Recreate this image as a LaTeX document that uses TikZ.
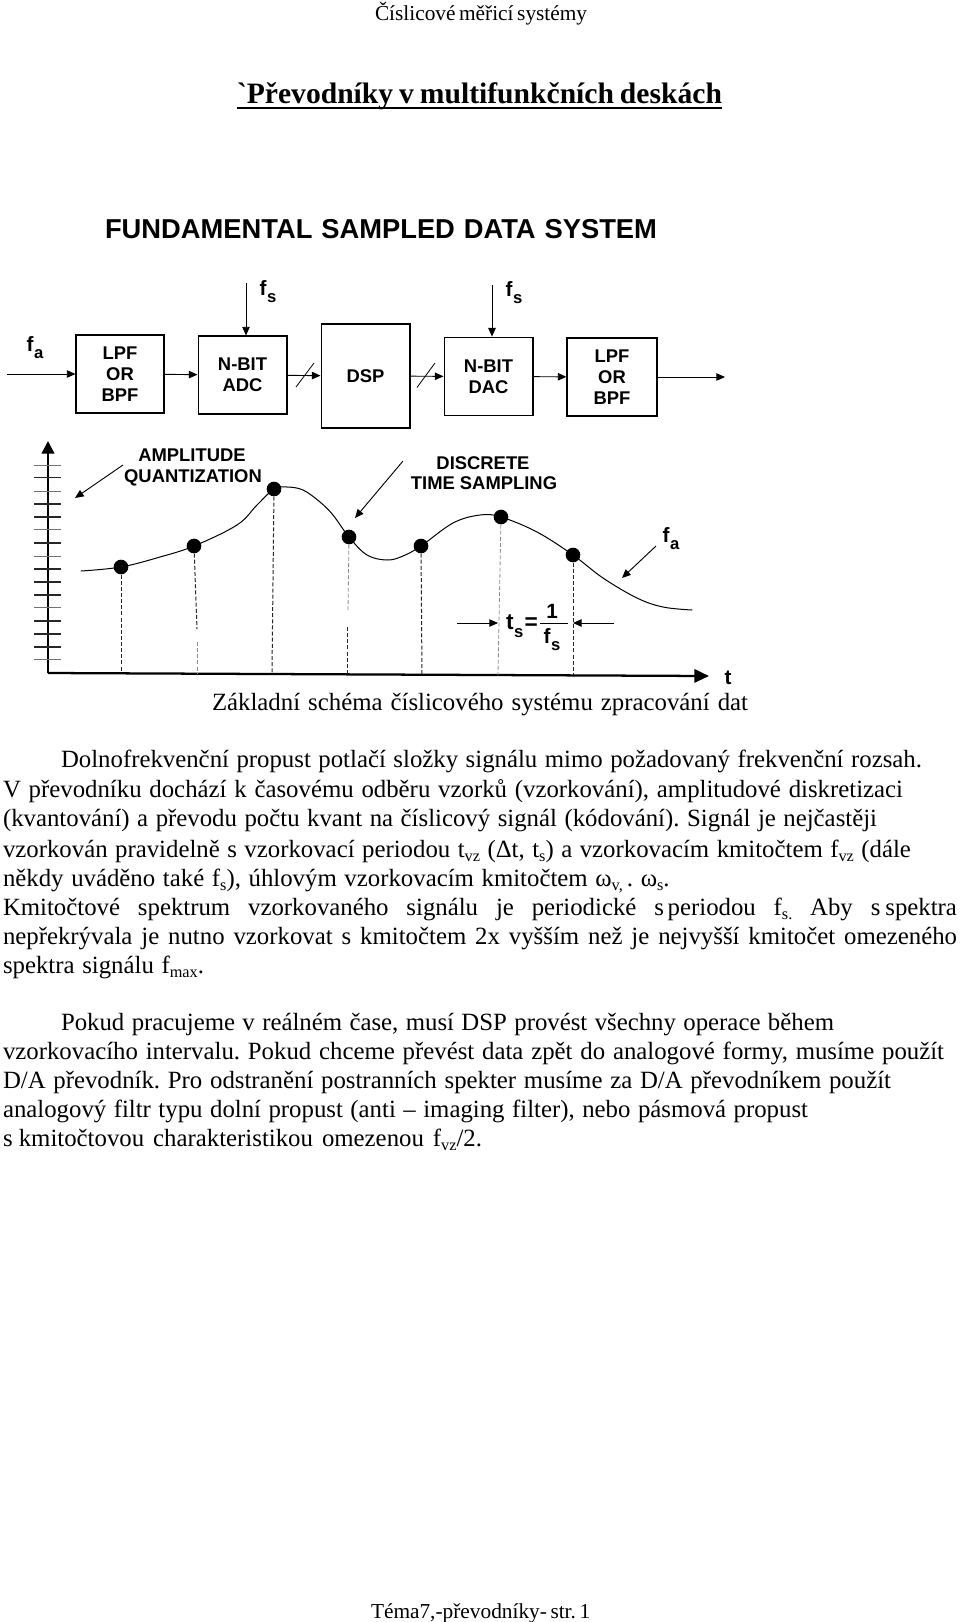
\documentclass[tikz,border=0pt]{standalone}
\usepackage{fontspec}
\usetikzlibrary{arrows.meta}
\newfontfamily\tser{Liberation Serif}
\newfontfamily\hsan{Liberation Sans}[BoldFont={Liberation Sans Bold}]
\frenchspacing
\newcommand{\dn}[1]{\raisebox{-0.16em}{\fontsize{12.2}{13}\selectfont #1}}
\newcommand{\bodyf}{\tser\frenchspacing\fontsize{18.6}{21}\selectfont}
\newcommand{\lbl}{\hsan\bfseries\fontsize{13.8}{15.75}\selectfont}
\newcommand{\lblb}{\hsan\bfseries\fontsize{15.5}{17}\selectfont}
\newcommand{\fsub}[2]{#1\kern.03em\raisebox{-0.38em}{\fontsize{12.5}{13}\selectfont #2}}
% line: name, x, baseline, width, text
\newcommand{\tl}[5]{\node[txtline] (#1) at (#2,#3) {\bodyf\hbox to #4pt{#5}};}
\tikzset{
  txtline/.style={anchor=base west,inner sep=0pt,outer sep=0pt},
  blockbox/.style={draw=black,line width=0.8pt,inner sep=0pt,align=center,font=\lbl},
  conn/.style={draw=black,line width=0.7pt,-{Triangle[length=6.5pt,width=5.6pt]}},
  thinl/.style={draw=black,line width=0.6pt},
  sans/.style={inner sep=0pt,outer sep=0pt,anchor=base,font=\lbl},
  sansb/.style={inner sep=0pt,outer sep=0pt,anchor=base,font=\lblb},
  tickA/.style={draw=black!85,line width=0.9pt},
  tickB/.style={draw=black!55,line width=0.6pt},
  dashv/.style={draw=black!85,line width=0.75pt,dash pattern=on 3pt off 1.6pt},
  dashf/.style={draw=black!45,line width=0.6pt,dash pattern=on 3pt off 1.6pt},
  dotn/.style={circle,fill=black,inner sep=0pt,minimum size=11pt},
}
\begin{document}
\begin{tikzpicture}[x=0.75pt,y=-0.75pt]
\useasboundingbox (0,0) rectangle (960,1622);
% header / title
\node[txtline] (hdr) at (375,20) {\tser\frenchspacing\fontsize{16}{18}\selectfont\hbox to 157.5pt{Číslicové měřicí systémy}};
\node[txtline] (ttl) at (237,103.5) {\tser\bfseries\frenchspacing\fontsize{22.2}{25}\selectfont\hbox to 363.75pt{\char96 Převodníky v multifunkčních deskách}};
\coordinate (ula) at (237,108); \coordinate (ulb) at (722,108);
\draw[line width=1.9pt] (ula) -- (ulb);
\node[inner sep=0pt,outer sep=0pt,anchor=base west,font=\hsan\bfseries\fontsize{20.5}{23}\selectfont] (dtitle) at (105,238.5) {\hbox to 414pt{FUNDAMENTAL SAMPLED DATA SYSTEM}};
% blocks
\node[blockbox,minimum width=66pt,minimum height=58.5pt] (lpfa) at (120,374) {LPF\\OR\\BPF};
\node[blockbox,minimum width=66.7pt,minimum height=58.5pt] (adc) at (242.5,375) {N-BIT\\ADC};
\node[blockbox,minimum width=66.7pt,minimum height=78pt] (dsp) at (365.5,376) {DSP};
\node[blockbox,minimum width=66.7pt,minimum height=59pt] (dac) at (488.5,376.5) {N-BIT\\DAC};
\node[blockbox,minimum width=67.5pt,minimum height=58.5pt] (lpfb) at (612,377) {LPF\\OR\\BPF};
\coordinate (inp) at (7,374); \coordinate (outp) at (725,377);
\coordinate (fsa) at (246,283); \coordinate (fsb) at (492,285);
\draw[conn] (inp) -- (lpfa);
\draw[conn] (lpfa) -- (adc);
\draw[conn] (adc) -- (dsp);
\draw[conn] (dsp) -- (dac);
\draw[conn] (dac) -- (lpfb);
\draw[conn] (lpfb) -- (outp);
\draw[conn] (fsa) -- (fsa |- adc.north);
\draw[conn] (fsb) -- (fsb |- dac.north);
\coordinate (sa1) at (296,387); \coordinate (sa2) at (314,363);
\coordinate (sb1) at (417,387.5); \coordinate (sb2) at (435,363);
\draw[thinl] (sa1) -- (sa2);
\draw[thinl] (sb1) -- (sb2);
\node[sansb] (fa1) at (35,351) {\fsub{f}{a}};
\node[sansb] (fs1) at (268,295) {\fsub{f}{s}};
\node[sansb] (fs2) at (514,296) {\fsub{f}{s}};
% axes
\coordinate (org) at (48,673); \coordinate (ytop) at (48,441); \coordinate (xend) at (709,676);
\draw[line width=1.7pt,-{Triangle[length=9.5pt,width=9.5pt]}] (org) -- (ytop);
\draw[line width=1.7pt,-{Triangle[length=11pt,width=10pt]}] (org) -- (xend);
\foreach \yy in {477.7,504,517,543,569,582,595,621,634,647}
  \draw[tickA] (34,\yy) -- (61,\yy);
\foreach \yy in {465,491,529.3,556,607.7,659.7}
  \draw[tickB] (34,\yy) -- (61,\yy);
% curve
\coordinate (c0) at (81,571);
\node[dotn] (d1) at (121,567) {};
\node[dotn] (d2) at (194,546) {};
\node[dotn] (d3) at (274,489) {};
\node[dotn] (d4) at (349,537) {};
\node[dotn] (d5) at (421,546) {};
\node[dotn] (d6) at (501,517) {};
\node[dotn] (d7) at (573,555) {};
\coordinate (c9) at (692,610);
\draw[line width=0.75pt,line cap=round] plot[smooth,tension=0.6] coordinates {(c0) (d1.center) (160,557) (d2.center) (237,525) (257,505) (d3.center) (287,487) (303,490) (320,502) (333,515) (d4.center) (367,555) (387,560) (403,556) (d5.center) (453,523) (480,515) (d6.center) (537,532) (d7.center) (603,578) (637,598) (663,607) (c9)};
% dashed drops
\draw[dashv] (d1) -- (121,673);
\draw[dashv] (d2) -- (197,629);
\draw[dashf] (197,642) -- (197,673);
\draw[dashv] (d3) -- (272,673);
\draw[dashf] (d4) -- (348,612);
\draw[dashv] (347,627) -- (347,674);
\draw[dashv] (d5) -- (422,675);
\draw[dashf] (d6) -- (498,675);
\draw[dashv] (d7) -- (573,675);
% callouts
\coordinate (a1) at (123,465); \coordinate (a2) at (75,498);
\coordinate (b1) at (403,461); \coordinate (b2) at (355,518);
\coordinate (e1) at (656,546); \coordinate (e2) at (622,578);
\coordinate (g1) at (457,623); \coordinate (g2) at (498,623);
\coordinate (h1) at (614,623); \coordinate (h2) at (573,623);
\draw[conn] (a1) -- (a2);
\draw[conn] (b1) -- (b2);
\draw[conn] (e1) -- (e2);
\draw[conn] (g1) -- (g2);
\draw[conn] (h1) -- (h2);
\node[sans] (q1) at (192,461) {AMPLITUDE};
\node[sans] (q2) at (193,482) {QUANTIZATION};
\node[sans] (r1) at (483,469) {DISCRETE};
\node[sans] (r2) at (484,489) {TIME SAMPLING};
\node[sansb] (fa2) at (671,542) {\fsub{f}{a}};
\node[sansb] (tt) at (728,684) {t};
\node[sansb,anchor=base west,font=\hsan\bfseries\fontsize{17}{19}\selectfont] (ts) at (506,629) {\fsub{t}{s}\kern.05em=};
\coordinate (fr1) at (540,623); \coordinate (fr2) at (568,623);
\draw[thinl] (fr1) -- (fr2);
\node[sansb] (one) at (552,618) {1};
\node[sansb] (fsd) at (552,643) {\fsub{f}{s}};
% caption and body
\tl{cap}{212}{710}{402}{Základní schéma číslicového systému zpracování dat}
\tl{l1}{61}{767.5}{645.75}{Dolnofrekvenční propust potlačí složky signálu mimo požadovaný frekvenční rozsah.}
\tl{l2}{3}{797.5}{675}{V převodníku dochází k časovému odběru vzorků (vzorkování), amplitudové diskretizaci}
\tl{l3}{3}{826.5}{655.5}{(kvantování) a převodu počtu kvant na číslicový signál (kódování). Signál je nejčastěji}
\tl{l4}{3}{857.5}{681}{vzorkován pravidelně s vzorkovací periodou t\dn{vz} (Δt, t\dn{s}) a vzorkovacím kmitočtem f\dn{vz} (dále}
\tl{l5}{3}{886.5}{500}{někdy uváděno také f\dn{s}), úhlovým vzorkovacím kmitočtem ω\dn{v,}\,. ω\dn{s}.}
\tl{l6}{3}{915.5}{715.5}{Kmitočtové spektrum vzorkovaného signálu je periodické s\kern.15em periodou f\dn{s.} Aby s\kern.2em spektra}
\tl{l7}{3}{944.5}{715.5}{nepřekrývala je nutno vzorkovat s kmitočtem 2x vyšším než je nejvyšší kmitočet omezeného}
\tl{l8}{3}{973.5}{150.75}{spektra signálu f\dn{max}.}
\tl{l9}{61}{1030.5}{579.75}{Pokud pracujeme v reálném čase, musí DSP provést všechny operace během}
\tl{l10}{3}{1059.5}{705.75}{vzorkovacího intervalu. Pokud chceme převést data zpět do analogové formy, musíme použít}
\tl{l11}{3}{1088.5}{666}{D/A převodník. Pro odstranění postranních spekter musíme za D/A převodníkem použít}
\tl{l12}{3}{1117.5}{603.75}{analogový filtr typu dolní propust (anti – imaging filter), nebo pásmová propust}
\tl{l13}{3}{1146.5}{359.25}{s\kern.25em kmitočtovou charakteristikou omezenou f\dn{vz}/2.}
\node[txtline] (ftr) at (371,1618) {\tser\frenchspacing\fontsize{16}{18}\selectfont\hbox to 163pt{Téma7,-převodníky- str. 1}};
\end{tikzpicture}
\end{document}
